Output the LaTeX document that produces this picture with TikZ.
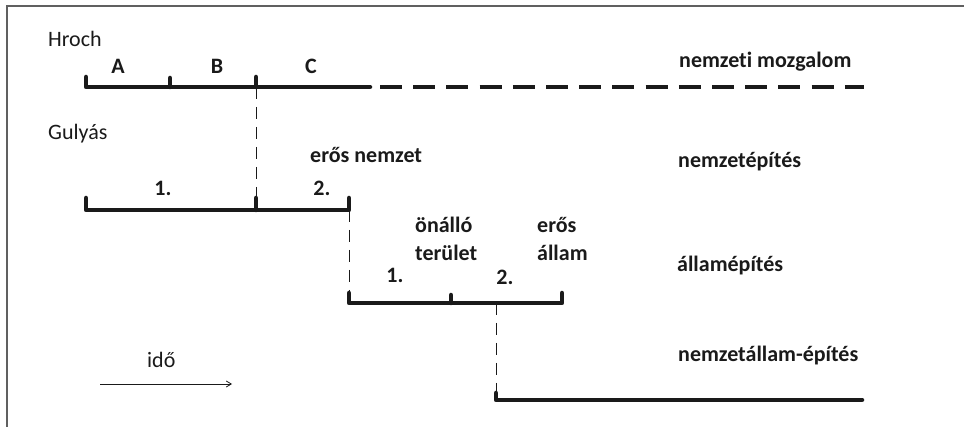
\documentclass[tikz,border=0pt]{standalone}
\usepackage{fontspec}
\setmainfont{Carlito}[Ligatures={NoCommon}]
\usetikzlibrary{arrows.meta}
\definecolor{ink}{HTML}{1A1A1A}
\definecolor{frame}{HTML}{606060}
\begin{document}
\begin{tikzpicture}[x=1pt,y=-1pt,
  lbl/.style={font=\fontsize{22}{26}\selectfont\bfseries, inner sep=0pt, text=ink},
  plain/.style={font=\fontsize{22}{26}\selectfont, inner sep=0pt, text=ink},
  bar/.style={draw=ink, line width=4.5pt, line cap=round, line join=round},
  dashbar/.style={draw=ink, line width=4.5pt, line cap=butt, dash pattern=on 22pt off 11.2pt},
  guide/.style={draw=ink, line width=0.8pt, dash pattern=on 12pt off 8pt},
  framel/.style={draw=frame, line width=1.5pt},
]
\useasboundingbox (0,0) rectangle (964,427);
% frame
\coordinate (fl) at (7,427);
\coordinate (fc) at (7,6);
\coordinate (fr) at (964,6);
\draw[framel] (fl) -- (fc) -- (fr);

% coordinates
\coordinate (h0t) at (86,77);  \coordinate (h0) at (86,87);
\coordinate (h1t) at (170,78); \coordinate (h1) at (170,87);
\coordinate (h2t) at (256,77); \coordinate (h2) at (256,87);
\coordinate (h3) at (370,87);  \coordinate (h4) at (380,87); \coordinate (h5) at (864,87);

\coordinate (g0t) at (86,198);  \coordinate (g0) at (86,210);
\coordinate (g1t) at (256,198); \coordinate (g1) at (256,210);
\coordinate (g2t) at (349,198); \coordinate (g2) at (349,210);

\coordinate (a0t) at (349,293); \coordinate (a0) at (349,303);
\coordinate (a1t) at (451,295); \coordinate (a1) at (451,303);
\coordinate (a2t) at (562,293); \coordinate (a2) at (562,303);
\coordinate (a3) at (496,303);

\coordinate (n0t) at (496,393); \coordinate (n0) at (496,400);
\coordinate (n1) at (862,400);

\coordinate (t0) at (100,384); \coordinate (t1) at (232,384);

% Hroch line
\draw[bar] (h0t) -- (h0) -- (h3);
\draw[bar] (h1t) -- (h1);
\draw[bar] (h2t) -- (h2);
\draw[dashbar] (h4) -- (h5);

% Gulyas line
\draw[bar] (g0t) -- (g0) -- (g2) -- (g2t);
\draw[bar] (g1t) -- (g1);
\draw[guide] (h2) -- (g1);

% allamepites line
\draw[bar] (a0t) -- (a0) -- (a2) -- (a2t);
\draw[bar] (a1t) -- (a1);
\draw[guide] (g2) -- (a0);

% nemzetallam line
\draw[bar] (n0t) -- (n0) -- (n1);
\draw[guide] (a3) -- (n0t);

% time arrow
\draw[draw=ink, line width=0.8pt, -{Straight Barb[length=5pt,width=6pt]}] (t0) -- (t1);

% labels
\node[plain, anchor=base west] (hroch) at (48,47) {Hroch};
\node[lbl, anchor=base] (la) at (118,74) {A};
\node[lbl, anchor=base] (lb) at (217,74) {B};
\node[lbl, anchor=base] (lc) at (311,74) {C};
\node[lbl, anchor=base west] (nm) at (679,68) {nemzeti mozgalom};

\node[plain, anchor=base west] (gulyas) at (48,140) {Gulyás};
\node[lbl, anchor=base west] (eros1) at (310,163) {erős nemzet};
\node[lbl, anchor=base] (g1l) at (163,196) {1.};
\node[lbl, anchor=base] (g2l) at (322,196) {2.};
\node[lbl, anchor=base west] (ne) at (678,168) {nemzetépítés};

\node[lbl, anchor=base west] (onallo) at (415,233) {önálló};
\node[lbl, anchor=base west] (terulet) at (415,261) {terület};
\node[lbl, anchor=base] (a1l) at (395,283) {1.};
\node[lbl, anchor=base west] (eros2) at (537,233) {erős};
\node[lbl, anchor=base west] (allam) at (537,261) {állam};
\node[lbl, anchor=base] (a2l) at (505,285) {2.};
\node[lbl, anchor=base west] (ae) at (677,272) {államépítés};

\node[lbl, anchor=base west] (nae) at (678,362) {nemzetállam-építés};
\node[plain, anchor=base west] (ido) at (147,368) {idő};
\end{tikzpicture}
\end{document}
